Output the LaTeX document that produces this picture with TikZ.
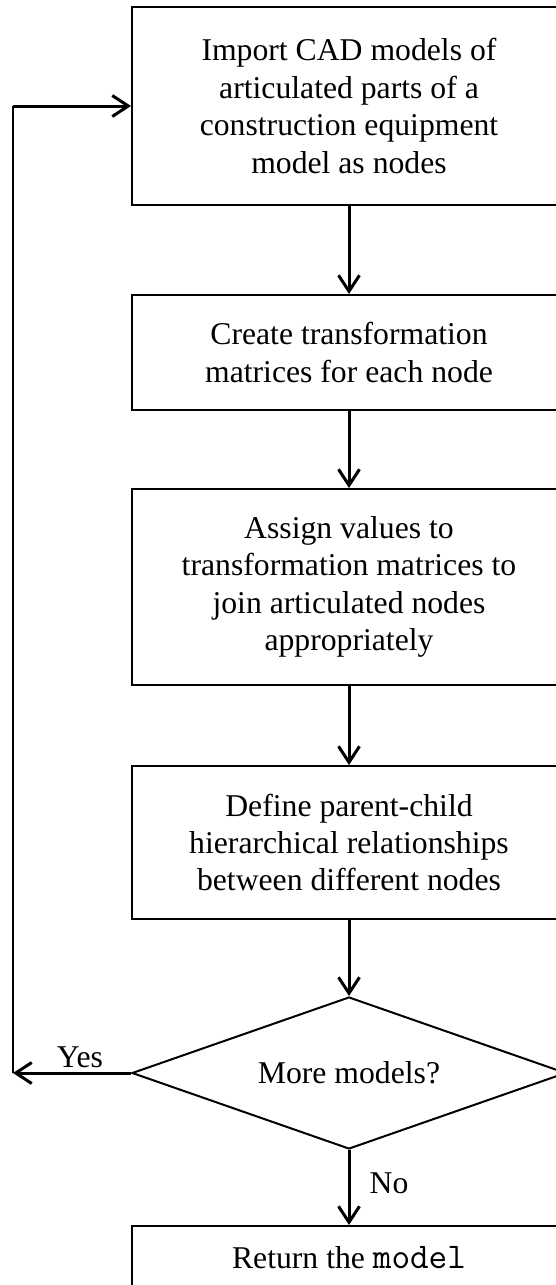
\documentclass[tikz,border=0pt]{standalone}
\usepackage{fontspec}
\setmainfont{Liberation Serif}
\setmonofont{Latin Modern Mono}[Scale=1.14]
\usetikzlibrary{arrows.meta,shapes.geometric}
\begin{document}
\begin{tikzpicture}[x=1pt,y=-1pt,
  every node/.style={font=\fontsize{31.7}{37.4}\selectfont},
  stepbox/.style={draw,line width=2pt,minimum width=434pt,align=center,inner sep=0pt},
  decision/.style={draw,diamond,line width=2pt,minimum width=434pt,minimum height=152pt,aspect=2.86,inner sep=0pt},
  flow/.style={line width=3pt,-{Straight Barb[length=16pt,width=21pt]}},
  loopline/.style={line width=2.2pt},
  lbl/.style={inner sep=0pt}]
\useasboundingbox (0,0) rectangle (556,1285);
\clip (0,0) rectangle (556,1285);

% process steps
\node[stepbox,minimum height=198pt] (imp) at (349,106)
  {Import CAD models of\\articulated parts of a\\construction equipment\\model as nodes};
\node[stepbox,minimum height=115pt] (mat) at (349,352.5)
  {Create transformation\\matrices for each node};
\node[stepbox,minimum height=196pt] (asg) at (349,587)
  {Assign values to\\transformation matrices to\\join articulated nodes\\appropriately};
\node[stepbox,minimum height=153pt] (hier) at (349,842.5)
  {Define parent-child\\hierarchical relationships\\between different nodes};
\node[decision] (dec) at (349,1073) {More models?};
\node[stepbox,minimum height=64pt] (ret) at (349,1258)
  {Return the \texttt{model}};

% main flow
\draw[flow] (imp.south) -- (mat.north);
\draw[flow] (mat.south) -- (asg.north);
\draw[flow] (asg.south) -- (hier.north);
\draw[flow] (hier.south) -- (dec.north);
\draw[flow] (dec.south) -- (ret.north);

% loop back for further models
\coordinate (back) at (13,1073);
\coordinate (turn) at (back |- imp.west);
\draw[flow] (dec.west) -- (back);
\draw[loopline] (back) -- (turn);
\draw[flow] (turn) -- (imp.west);

% branch labels
\node[lbl] (yes) at (80,1057) {Yes};
\node[lbl] (no) at (389,1183) {No};
\end{tikzpicture}
\end{document}
